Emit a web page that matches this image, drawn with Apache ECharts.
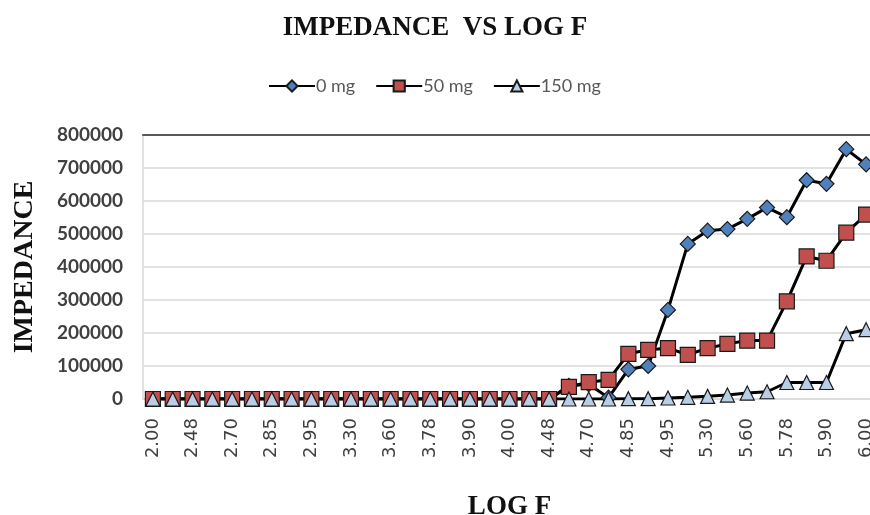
<!DOCTYPE html>
<html>
<head>
<meta charset="utf-8">
<style>
  html, body { margin: 0; padding: 0; background: #fff; }
  #chart { width: 870px; height: 515px; }
</style>
<script src="https://cdn.jsdelivr.net/npm/echarts@6/dist/echarts.min.js"></script>
</head>
<body>
<div id="chart"></div>
<script>
// log F categories (log10 of 100 Hz .. 1 MHz)
const logF = [
  '2.00', '2.30', '2.48', '2.60', '2.70', '2.78', '2.85', '2.90', '2.95', '3.00',
  '3.30', '3.48', '3.60', '3.70', '3.78', '3.85', '3.90', '3.95', '4.00', '4.30',
  '4.48', '4.60', '4.70', '4.78', '4.85', '4.90', '4.95', '5.00', '5.30', '5.48',
  '5.60', '5.70', '5.78', '5.85', '5.90', '5.95', '6.00'
]

const mg0 = [
  0, 0, 0, 0, 0, 0, 0, 0, 0, 0,
  0, 0, 0, 0, 0, 0, 0, 0, 0, 0,
  0, 40000, 45000, 4000, 90000, 100000, 270000, 470000, 510000, 515000,
  546000, 580000, 551000, 663000, 652000, 757000, 711000
]

const mg50 = [
  0, 0, 0, 0, 0, 0, 0, 0, 0, 0,
  0, 0, 0, 0, 0, 0, 0, 0, 0, 0,
  0, 37000, 51000, 58000, 137000, 149000, 154000, 134000, 154000, 167000,
  177000, 177000, 296000, 432000, 419000, 504000, 559000
]

const mg150 = [
  0, 0, 0, 0, 0, 0, 0, 0, 0, 0,
  0, 0, 0, 0, 0, 0, 0, 0, 0, 0,
  0, 0, 0, 0, 1000, 1000, 3000, 5000, 8000, 12000,
  18000, 22000, 50000, 50000, 50000, 198000, 210000
]

const chart = echarts.init(document.getElementById('chart'))

const serifBold = {
  fontFamily: '"Liberation Serif", "Times New Roman", serif',
  fontWeight: 'bold',
  color: '#111'
}

function lineSeries(name, data, symbol, size, fill) {
  return {
    name: name,
    type: 'line',
    data: data,
    symbol: symbol,
    symbolSize: size,
    showAllSymbol: true,
    lineStyle: { color: '#000', width: 3 },
    itemStyle: { color: fill, borderColor: '#1a1a1a', borderWidth: 1.2 },
    emphasis: { disabled: true },
    animation: false
  }
}

chart.setOption({
  animation: false,
  title: {
    text: 'IMPEDANCE  VS LOG F',
    left: 'center',
    top: 10,
    textStyle: Object.assign({ fontSize: 27 }, serifBold)
  },
  legend: {
    top: 72,
    left: 263,
    itemWidth: 46,
    itemHeight: 14,
    itemGap: 20,
    textStyle: {
      fontFamily: 'Lato, "Open Sans", sans-serif',
      fontSize: 18,
      color: '#595959',
      padding: [0, 0, 0, -4]
    },
    data: ['0 mg', '50 mg', '150 mg']
  },
  grid: {
    left: 143,
    right: -6,
    top: 135,
    bottom: 116,
    outerBoundsMode: 'none'
  },
  xAxis: [
    {
      type: 'category',
      data: logF,
      name: 'LOG F',
      nameLocation: 'middle',
      nameGap: 95,
      nameTextStyle: Object.assign({ fontSize: 27 }, serifBold),
      axisLine: { lineStyle: { color: '#d9d9d9', width: 1.5 } },
      axisTick: { show: false },
      axisLabel: {
        interval: 1,
        rotate: 90,
        margin: 19,
        fontFamily: '"DejaVu Sans", sans-serif',
        fontSize: 18,
        color: '#404040'
      }
    },
    {
      type: 'category',
      data: logF,
      position: 'top',
      axisLine: { lineStyle: { color: '#595959', width: 2 } },
      axisTick: { show: false },
      axisLabel: { show: false }
    }
  ],
  yAxis: {
    type: 'value',
    min: 0,
    max: 800000,
    interval: 100000,
    name: 'IMPEDANCE',
    nameLocation: 'middle',
    nameGap: 104,
    nameTextStyle: Object.assign({ fontSize: 28 }, serifBold),
    axisLine: { show: true, lineStyle: { color: '#d9d9d9', width: 1.5 } },
    axisTick: { show: false },
    axisLabel: {
      margin: 20,
      formatter: value => String(value),
      fontFamily: 'Lato, "Open Sans", sans-serif',
      fontWeight: 'bold',
      fontSize: 19,
      color: '#404040'
    },
    splitLine: { lineStyle: { color: '#d9d9d9', width: 1.5 } }
  },
  series: [
    lineSeries('0 mg', mg0, 'diamond', 15, '#4f81bd'),
    lineSeries('50 mg', mg50, 'rect', 15, '#c0504d'),
    lineSeries('150 mg', mg150, 'triangle', 14, '#b9cde5')
  ]
})

window.addEventListener('resize', () => chart.resize())
</script>
</body>
</html>
